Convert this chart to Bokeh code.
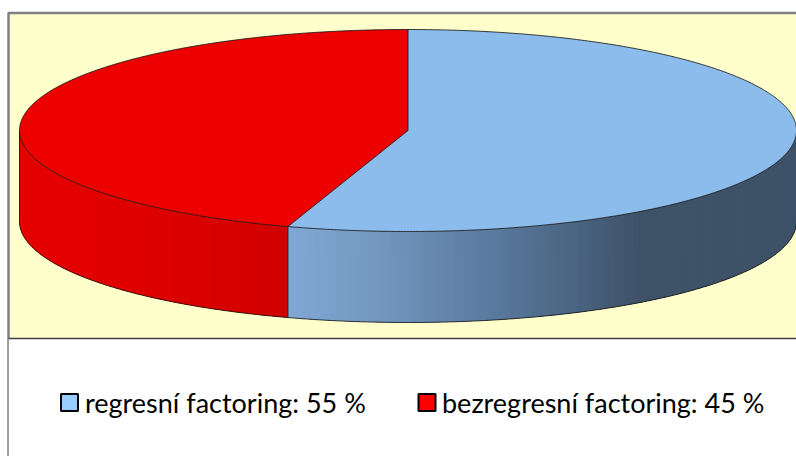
import numpy as np
from bokeh.plotting import figure
from bokeh.models import Range1d
from bokeh.core.properties import value
from bokeh.embed import file_html
from bokeh.resources import INLINE

# data
categories = ["regresní factoring", "bezregresní factoring"]
shares = [55, 45]
legend_labels = ["regresní factoring: 55 %", "bezregresní factoring: 45 %"]
top_colors = ["#8cbcec", "#ec0000"]
swatch_colors = ["#99ccff", "#ff0000"]

# layout (page pixels)
W, H = 796, 456
CX, CY, RX, RY, DEPTH = 407.5, 130.0, 388.5, 101.0, 91.0
PLOT_L, PLOT_T, PLOT_B = 8.0, 12.5, 338.0

# gradient stops for pie side (x, rgb)
blue_stops_x = [288, 360, 500, 640, 797]
blue_stops = [(128, 168, 212), (118, 155, 196), (88, 120, 156), (62, 82, 104), (62, 82, 104)]
red_stops_x = [19, 150, 288]
red_stops = [(230, 0, 0), (222, 0, 0), (208, 0, 0)]


def col(x, xs, stops):
    return "#%02x%02x%02x" % tuple(int(round(np.interp(x, xs, [s[i] for s in stops]))) for i in range(3))


def ex(t):
    return CX + RX * np.sin(t)


def ey(t):
    return CY - RY * np.cos(t)


p = figure(width=W, height=H, x_range=Range1d(0, W), y_range=Range1d(H, 0),
           output_backend="svg", toolbar_location=None, min_border=0,
           background_fill_color="white", border_fill_color="white", outline_line_color=None)
p.axis.visible = False
p.grid.visible = False

# plot area
p.quad(left=PLOT_L, right=W, top=PLOT_T, bottom=PLOT_B, fill_color="#ffffcc", line_color=None)
p.line([PLOT_L, PLOT_L, W], [PLOT_B, PLOT_T, PLOT_T], line_color="#808080", line_width=2.5)
p.line([PLOT_L, W], [PLOT_B, PLOT_B], line_color="#404040", line_width=1.5)
p.line([PLOT_L - 0.5, PLOT_L - 0.5], [PLOT_B, H], line_color="#404040", line_width=1)

total = sum(shares)
split = 2 * np.pi * shares[0] / total

# side surface: each strip runs under the next one, so no seams show
step = np.radians(0.5)
edges = np.unique(np.r_[np.arange(np.pi / 2, 3 * np.pi / 2, step), split])
xs, ys, cs = [], [], []
for t in edges:
    t2 = min(t + 4 * step, 3 * np.pi / 2)
    tm = np.linspace(t, t2, 5)
    xm = ex(t + step / 2)
    c = col(xm, blue_stops_x, blue_stops) if t < split else col(xm, red_stops_x, red_stops)
    xs.append(np.r_[ex(tm), ex(tm)[::-1]])
    ys.append(np.r_[ey(tm), ey(tm)[::-1] + DEPTH])
    cs.append(c)
p.patches(xs, ys, fill_color=cs, line_color=None)

# top slices
t_a = np.linspace(0, split, 400)
t_b = np.linspace(split, 2 * np.pi, 400)
for seg, c in zip([t_a, t_b], top_colors):
    p.patch(np.r_[CX, ex(seg)], np.r_[CY, ey(seg)], fill_color=c, line_color=None)

# outlines
t_all = np.linspace(0, 2 * np.pi, 800)
p.line(ex(t_all), ey(t_all), line_color="#1a1a1a", line_width=1, line_alpha=0.85)
t_front = np.linspace(np.pi / 2, 3 * np.pi / 2, 500)
p.line(ex(t_front), ey(t_front) + DEPTH, line_color="#1a1a1a", line_width=1, line_alpha=0.85)
for t in [np.pi / 2, split, 3 * np.pi / 2]:
    p.line([ex(t), ex(t)], [ey(t), ey(t) + DEPTH], line_color="#1a1a1a", line_width=1, line_alpha=0.85)
p.line([CX, CX], [CY, ey(0)], line_color="#1a1a1a", line_width=1, line_alpha=0.85)
p.line([CX, ex(split)], [CY, ey(split)], line_color="#1a1a1a", line_width=1, line_alpha=0.85)

# legend
swatch_x = [60.5, 418.0]
text_x = [84.5, 441.5]
for sx, tx, label, c in zip(swatch_x, text_x, legend_labels, swatch_colors):
    p.quad(left=sx, right=sx + 17, top=393.5, bottom=410.5, fill_color=c, line_color="black", line_width=2)
    p.text([tx], [402], text=[label], text_font=value("Lato"), text_font_size="27px",
           text_color="#000000", text_baseline="middle", text_align="left")

open("out.html", "w").write(file_html(p, INLINE))
